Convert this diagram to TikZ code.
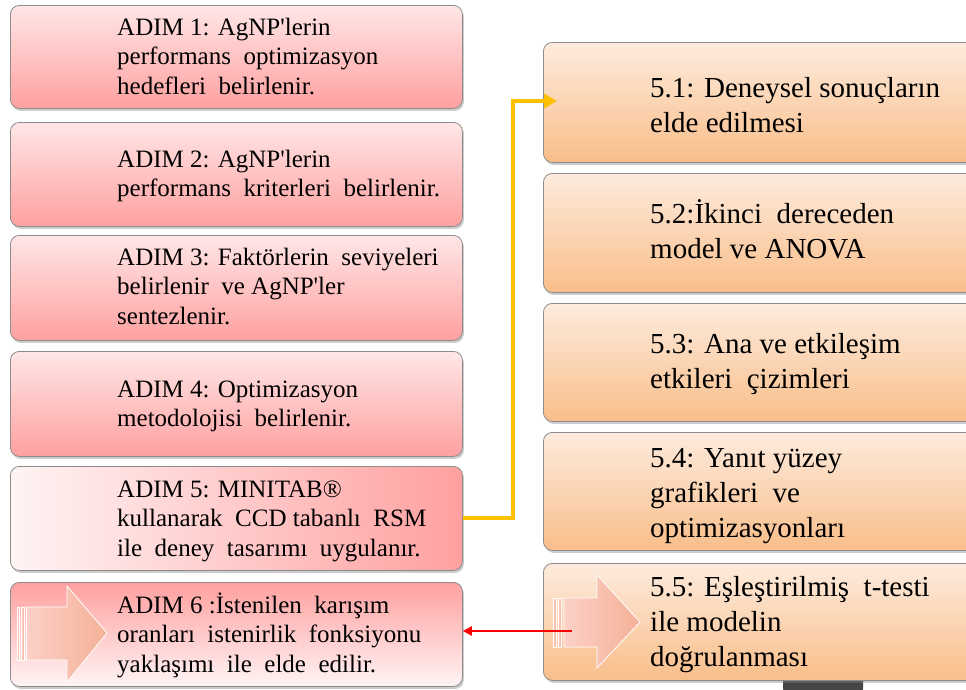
\documentclass[tikz,border=0pt]{standalone}
\usepackage{fontspec}
\setmainfont{Liberation Serif}[Ligatures=TeXOff]
\usetikzlibrary{shadows,arrows.meta}
\definecolor{pinkL}{HTML}{FFE6E6}
\definecolor{pinkD}{HTML}{FFA0A0}
\definecolor{pinkW}{HTML}{FFF4F4}
\definecolor{orL}{HTML}{FDEBDD}
\definecolor{orD}{HTML}{F9BE8A}
\definecolor{boxline}{HTML}{8C8C8C}
\definecolor{arrowyellow}{HTML}{FFC000}
\definecolor{salL}{HTML}{FCD0C8}
\definecolor{salD}{HTML}{F4B196}
\begin{document}
\begin{tikzpicture}[x=1pt,y=-1pt,
  stepbox/.style={draw=boxline, line width=0.8pt, rounded corners=9pt, anchor=north west,
    drop shadow={shadow xshift=1.5pt,shadow yshift=-2.5pt,opacity=0.4}},
  pinkbox/.style={stepbox, top color=pinkL, bottom color=pinkD},
  orangebox/.style={stepbox, top color=orL, bottom color=orD},
  ltext/.style={anchor=base west, inner sep=0pt, font=\fontsize{25}{29.5}\selectfont},
  rtext/.style={anchor=base west, inner sep=0pt, font=\fontsize{29}{35}\selectfont},
  blockarrow/.style={left color=salL, right color=salD, draw=white, line width=0.8pt}
]
\useasboundingbox (0,0) rectangle (966,689);
\clip (0,0) rectangle (966,689);
\fill[white] (0,0) rectangle (966,689);

% grey element peeking below the last right box
\fill[gray!55!black, rounded corners=3pt] (783,672) rectangle (863,692);

% left column
\node[pinkbox, minimum width=452pt, minimum height=103pt] (b1) at (10,5) {};
\node[pinkbox, minimum width=452pt, minimum height=104pt] (b2) at (10,122) {};
\node[pinkbox, minimum width=452pt, minimum height=105pt] (b3) at (10,235) {};
\node[pinkbox, minimum width=452pt, minimum height=105pt] (b4) at (10,351) {};
\node[stepbox, left color=pinkW, right color=pinkD, minimum width=452pt, minimum height=104pt] (b5) at (10,466) {};
\node[stepbox, top color=pinkD, bottom color=pinkW, minimum width=452pt, minimum height=104pt] (b6) at (10,582) {};

% right column
\node[orangebox, minimum width=440pt, minimum height=120pt] (r1) at (543,42) {};
\node[orangebox, minimum width=440pt, minimum height=119pt] (r2) at (543,173) {};
\node[orangebox, minimum width=440pt, minimum height=118pt] (r3) at (543,303) {};
\node[orangebox, minimum width=440pt, minimum height=118pt] (r4) at (543,432) {};
\node[orangebox, minimum width=440pt, minimum height=117pt] (r5) at (543,563) {};

% block arrows
\fill[blockarrow] (17,607) rectangle (19.5,660);
\fill[blockarrow] (21.5,607) rectangle (24.5,660);
\path[blockarrow] (26.5,607) -- (67,607) -- (67,586) -- (107,633) -- (67,682) -- (67,660) -- (26.5,660) -- cycle;
\fill[blockarrow] (553,598) rectangle (556,647);
\fill[blockarrow] (558,598) rectangle (561.5,647);
\path[blockarrow] (564,598) -- (597,598) -- (597,575) -- (640,622) -- (597,668) -- (597,647) -- (564,647) -- cycle;

% texts
\node[ltext] (t1) at (117,35) {\parbox[t]{345pt}{\raggedright ADIM 1: AgNP'lerin\\performans\ \ optimizasyon\\hedefleri\ \ belirlenir.}};
\node[ltext] (t2) at (117,167) {\parbox[t]{345pt}{\raggedright ADIM 2: AgNP'lerin\\performans\ \ kriterleri\ \ belirlenir.}};
\node[ltext] (t3) at (117,265) {\parbox[t]{345pt}{\raggedright ADIM 3: Faktörlerin\ \ seviyeleri\\belirlenir\ \ ve AgNP'ler\\sentezlenir.}};
\node[ltext] (t4) at (117,397) {\parbox[t]{345pt}{\raggedright ADIM 4: Optimizasyon\\metodolojisi\ \ belirlenir.}};
\node[ltext] (t5) at (117,497) {\parbox[t]{345pt}{\raggedright ADIM 5: MINITAB®\\kullanarak\ \ CCD tabanlı\ \ RSM\\ile\ \ deney\ \ tasarımı\ \ uygulanır.}};
\node[ltext] (t6) at (117,613) {\parbox[t]{345pt}{\raggedright ADIM 6 :İstenilen\ \ karışım\\oranları\ \ istenirlik\ \ fonksiyonu\\yaklaşımı\ \ ile\ \ elde\ \ edilir.}};

\node[rtext] (s1) at (650,97) {\parbox[t]{330pt}{\raggedright 5.1: Deneysel\ sonuçların\\elde edilmesi}};
\node[rtext] (s2) at (650,223) {\parbox[t]{330pt}{\raggedright 5.2:İkinci\ \ dereceden\\model ve ANOVA}};
\node[rtext] (s3) at (650,353) {\parbox[t]{330pt}{\raggedright 5.3: Ana ve etkileşim\\etkileri\ \ çizimleri}};
\node[rtext] (s4) at (650,467) {\parbox[t]{330pt}{\raggedright 5.4: Yanıt yüzey\\grafikleri\ \ ve\\optimizasyonları}};
\node[rtext] (s5) at (650,596) {\parbox[t]{330pt}{\raggedright 5.5: Eşleştirilmiş\ \ t-testi\\ile modelin\\doğrulanması}};

% connectors
\coordinate (ytip) at (557,101);
\draw[arrowyellow, line width=4pt, -{Triangle[length=13pt,width=14pt]}]
  (b5.east) -- ++(50,0) |- (ytip);
\coordinate (rstart) at (572,631);
\draw[red, line width=2.4pt, -{Triangle[length=9pt,width=9pt]}]
  (rstart) -- (rstart -| b6.east);
\end{tikzpicture}
\end{document}
